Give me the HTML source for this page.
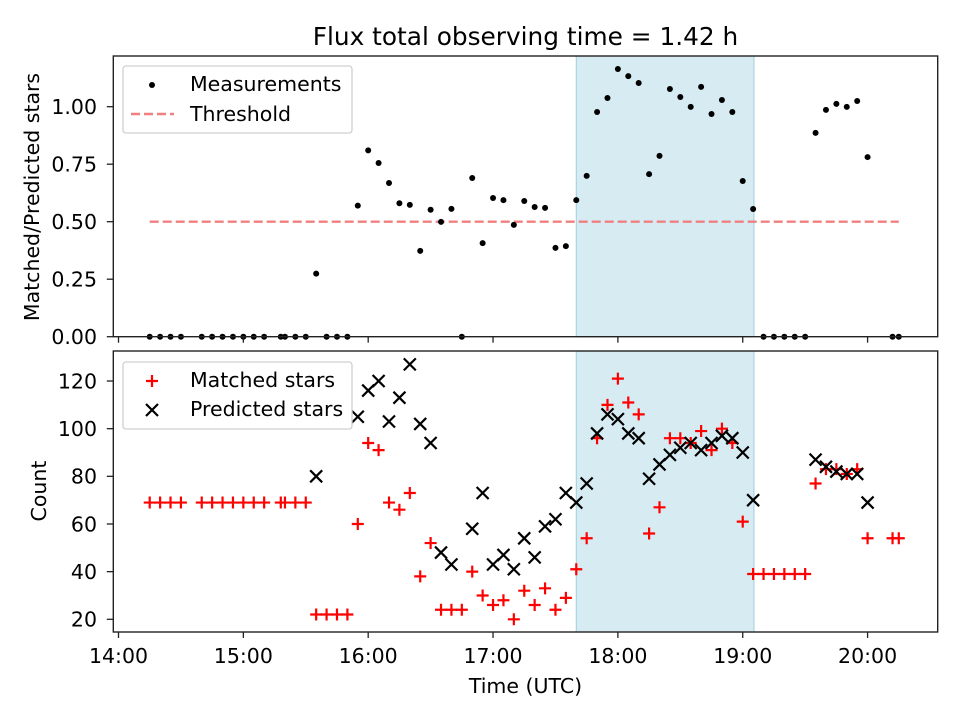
<!DOCTYPE html>
<html><head><meta charset="utf-8"><style>
body{margin:0;background:#fff;}
svg{display:block;font-family:"DejaVu Sans","Liberation Sans",sans-serif;}
</style></head><body>
<svg id="chart" width="960" height="720" viewBox="0 0 960 720" xmlns="http://www.w3.org/2000/svg"></svg>
<script>
// minutes after 14:00 UTC
const ratioTimes = [15,20,25,30,40,45,50,55,60,65,70,78,80,85,90,95,100,105,110,115,120,125,130,135,140,145,150,155,160,165,170,175,180,185,190,195,200,205,210,215,220,225,230,235,240,245,250,255,260,265,270,275,280,285,290,295,300,305,310,315,320,325,330,335,340,345,350,355,360,372,375];
const ratioValues = [0,0,0,0,0,0,0,0,0,0,0,0,0,0,0,0.274,0,0,0,0.57,0.81,0.755,0.668,0.58,0.573,0.373,0.552,0.499,0.556,0,0.69,0.407,0.603,0.594,0.486,0.59,0.564,0.56,0.386,0.394,0.594,0.699,0.977,1.038,1.164,1.133,1.103,0.707,0.786,1.077,1.042,0.999,1.086,0.968,1.029,0.977,0.677,0.555,0,0,0,0,0,0.886,0.986,1.012,0.999,1.025,0.781,0,0];
const matchedTimes = [15,20,25,30,40,45,50,55,60,65,70,78,80,85,90,95,100,105,110,115,120,125,130,135,140,145,150,155,160,165,170,175,180,185,190,195,200,205,210,215,220,225,230,235,240,245,250,255,260,265,270,275,280,285,290,295,300,305,310,315,320,325,330,335,340,345,350,355,360,372,375];
const matchedValues = [69,69,69,69,69,69,69,69,69,69,69,69,69,69,69,22,22,22,22,60,94,91,69,66,73,38,52,24,24,24,40,30,26,28,20,32,26,33,24,29,41,54,96,110,121,111,106,56,67,96,96,94,99,91,100,94,61,39,39,39,39,39,39,77,83,83,81,83,54,54,54];
const predictedTimes = [95,115,120,125,130,135,140,145,150,155,160,170,175,180,185,190,195,200,205,210,215,220,225,230,235,240,245,250,255,260,265,270,275,280,285,290,295,300,305,335,340,345,350,355,360];
const predictedValues = [80,105,116,120,103,113,127,102,94,48,43,58,73,43,47,41,54,46,59,62,73,69,77,98,106,104,98,96,79,85,89,92,94,91,94,97,96,90,70,87,84,82,81,81,69];
const xTickLabels = ["14:00","15:00","16:00","17:00","18:00","19:00","20:00"];
const xTickMinutes = [0,60,120,180,240,300,360];
const topTicks = [0,0.25,0.5,0.75,1.0];
const topTickLabels = ["0.00","0.25","0.50","0.75","1.00"];
const botTicks = [20,40,60,80,100,120];
const threshold = 0.5, thrStart = 15, thrEnd = 375;
const shadeStart = 220, shadeEnd = 305.4;
const title = "Flux total observing time = 1.42 h";

const NS="http://www.w3.org/2000/svg";
const svg=document.getElementById('chart');
function el(tag,attrs,parent){const e=document.createElementNS(NS,tag);for(const k in attrs)e.setAttribute(k,attrs[k]);(parent||svg).appendChild(e);return e;}
const L=113.3,R=937.7;
const xMin=-2.5,xMax=393.7;
const X=m=>L+(m-xMin)/(xMax-xMin)*(R-L);
const topP={t:56,b:336.7,min:0,max:1.2204};
const botP={t:351,b:632,min:14.67,max:132.6};
const Y=(p,v)=>p.b-(v-p.min)/(p.max-p.min)*(p.b-p.t);
const FS=20.5;

let t=el('text',{x:525.5,y:45,'text-anchor':'middle','font-size':'24.8'});t.textContent=title;



function panel(p,name){
  const g=el('g',{});
  
  
  const sh=el('rect',{x:X(shadeStart),y:p.t,width:X(shadeEnd)-X(shadeStart),height:p.b-p.t,fill:'#add8e6','fill-opacity':'0.5',stroke:'#9fcfdc','stroke-width':1},g);
  
  
  return g;
}
function frame(p,g){
  el('rect',{x:L,y:p.t,width:R-L,height:p.b-p.t,fill:'none',stroke:'#222','stroke-width':1.4},g);
  xTickMinutes.forEach(m=>{el('line',{x1:X(m),x2:X(m),y1:p.b,y2:p.b+6,stroke:'#222','stroke-width':1.3},g);});
}
// Top panel
const gt=panel(topP,'ratio-panel');
const thr=el('line',{x1:X(thrStart),x2:X(thrEnd),y1:Y(topP,threshold),y2:Y(topP,threshold),stroke:'#f08080','stroke-width':2.4,'stroke-dasharray':'9,4'},gt);


ratioTimes.forEach((m,i)=>{
  const c=el('circle',{cx:X(m),cy:Y(topP,ratioValues[i]),r:3,fill:'#000'},gt);
  
  
});
frame(topP,gt);
topTicks.forEach((v,i)=>{
  const y=Y(topP,v);
  el('line',{x1:L-6.5,x2:L,y1:y,y2:y,stroke:'#222','stroke-width':1.3},gt);
  const tx=el('text',{x:97,y:y+7.4,'text-anchor':'end','font-size':FS},gt);tx.textContent=topTickLabels[i];
  
  
});
let yl=el('text',{transform:'translate(39,197) rotate(-90)','text-anchor':'middle','font-size':FS});yl.textContent='Matched/Predicted stars';



// Bottom panel
const gb=panel(botP,'count-panel');
function plus(x,y,g){const p=el('path',{d:`M${x-6},${y}H${x+6}M${x},${y-6}V${y+6}`,stroke:'#f00','stroke-width':2.2},g);return p;}
function cross(x,y,g){const p=el('path',{d:`M${x-6},${y-6}L${x+6},${y+6}M${x-6},${y+6}L${x+6},${y-6}`,stroke:'#000','stroke-width':2.2},g);return p;}
matchedTimes.forEach((m,i)=>{
  const p=plus(X(m),Y(botP,matchedValues[i]),gb);
  
  
});
predictedTimes.forEach((m,i)=>{
  const p=cross(X(m),Y(botP,predictedValues[i]),gb);
  
  
});
frame(botP,gb);
botTicks.forEach(v=>{
  const y=Y(botP,v);
  el('line',{x1:L-6.5,x2:L,y1:y,y2:y,stroke:'#222','stroke-width':1.3},gb);
  const tx=el('text',{x:97,y:y+7.4,'text-anchor':'end','font-size':FS},gb);tx.textContent=String(v);
  
  
});
xTickMinutes.forEach((m,i)=>{
  const tx=el('text',{x:X(m),y:663,'text-anchor':'middle','font-size':FS},gb);tx.textContent=xTickLabels[i];
  
  
});
yl=el('text',{transform:'translate(46,491) rotate(-90)','text-anchor':'middle','font-size':FS});yl.textContent='Count';


let xl=el('text',{x:525.5,y:693,'text-anchor':'middle','font-size':FS});xl.textContent='Time (UTC)';



// Legends
function legend(x,y,name){const g=el('g',{});
  
  
  el('rect',{x:x,y:y,width:229,height:67,rx:3,fill:'#fff','fill-opacity':0.8,stroke:'#d0d0d0','stroke-width':1.3},g);return g;}
const lg1=legend(123,66,'ratio-legend');
el('circle',{cx:152,cy:85,r:3,fill:'#000'},lg1);
let lt=el('text',{x:190,y:91,'font-size':FS},lg1);lt.textContent='Measurements';
el('line',{x1:131,x2:174,y1:114,y2:114,stroke:'#f08080','stroke-width':2.4,'stroke-dasharray':'9,4'},lg1);
lt=el('text',{x:190,y:121,'font-size':FS},lg1);lt.textContent='Threshold';
const lg2=legend(123,362,'count-legend');
plus(152,381,lg2);
lt=el('text',{x:190,y:387,'font-size':FS},lg2);lt.textContent='Matched stars';
cross(152,410,lg2);
lt=el('text',{x:190,y:416,'font-size':FS},lg2);lt.textContent='Predicted stars';
</script>
</body></html>
